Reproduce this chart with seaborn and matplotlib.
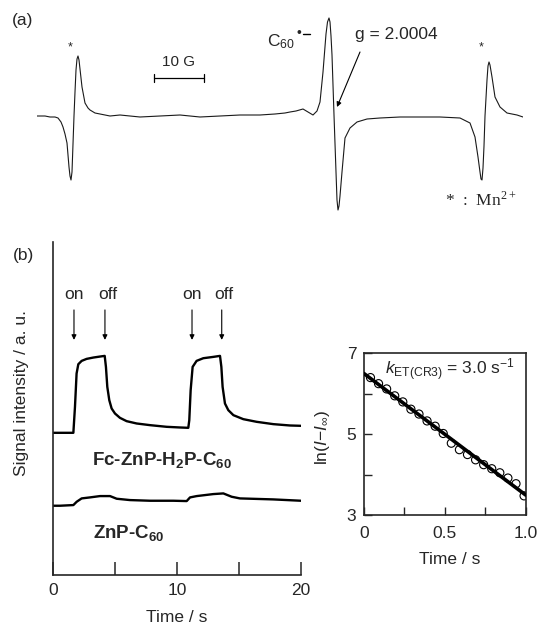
import matplotlib
matplotlib.use("Agg")
import matplotlib.pyplot as plt
import seaborn as sns

# ---------------- panel (a): EPR spectrum (field / G, derivative signal / a.u.)
epr_field = [0.0, 1.6, 2.6, 3.6, 4.2, 4.8, 5.2, 5.6, 6.0, 6.4, 6.6, 6.8, 7.0, 7.2, 7.4, 7.6,
             7.8, 8.0, 8.2, 8.4, 8.6, 9.0, 9.6, 10.2, 10.6, 11.6, 12.6, 14.6, 16.6, 20.6,
             24.6, 28.6, 32.6, 36.6, 40.6, 44.6, 47.6, 49.6, 50.6, 51.8, 53.2, 54.2, 55.2,
             56.0, 56.6, 57.2, 57.8, 58.1, 58.4, 58.6, 58.8, 59.0, 59.4, 59.8, 60.0, 60.2,
             60.4, 60.6, 61.0, 61.6, 62.6, 64.0, 66.0, 68.6, 72.6, 76.6, 80.6, 84.6, 86.6,
             87.6, 88.2, 88.6, 88.8, 89.0, 89.2, 89.4, 89.6, 90.0, 90.2, 90.4, 90.6, 91.0,
             91.6, 92.6, 94.0, 96.0, 97.2]
epr_signal = [0, 0, -1, -1, -2, -6, -11, -18, -27, -51, -60, -64, -56, -28, 0, 24,
              46, 57, 60, 56, 47, 29, 13, 8, 6, 3, 2, 0, 1, -1,
              0, 1, -1, 0, 1, 1, 2, 3, 4, 5, 7, 4, 1,
              5, 14, 44, 82, 94, 98, 94, 80, 61, 1, -56, -84, -94,
              -90, -80, -56, -22, -12, -6, -3, -2, -1, -1, -1, -2, -7,
              -21, -41, -56, -63, -64, -52, -30, 0, 36, 50, 54, 51, 39,
              19, 9, 3, 1, -1]
mn_star_field = [6.6, 88.8]
scale_bar_field = [23.4, 33.4]

# ---------------- panel (b): time profiles of the EPR signal
fc_time = [0.0, 1.62, 1.75, 1.88, 2.02, 2.29, 2.69, 3.23, 3.77, 4.15, 4.25, 4.36, 4.52,
           4.71, 4.98, 5.38, 5.92, 6.73, 7.81, 9.15, 10.23, 10.90, 10.98, 11.09, 11.25,
           11.57, 12.11, 12.92, 13.46, 13.57, 13.67, 13.86, 14.13, 14.54, 15.34, 16.42,
           17.77, 19.11, 20.0]
fc_signal = [42.7, 42.7, 50.5, 60.5, 63.3, 64.3, 64.9, 65.3, 65.6, 65.8, 62.5, 56.5, 52.5,
             50.0, 48.5, 47.2, 46.2, 45.5, 45.0, 44.5, 44.3, 44.2, 46.5, 55.5, 62.5,
             64.3, 65.1, 65.5, 65.8, 62.5, 56.5, 51.5, 49.5, 48.0, 46.8, 46.0,
             45.3, 44.9, 44.8]
znp_time = [0.0, 0.54, 1.62, 1.89, 2.29, 2.96, 3.77, 4.58, 5.12, 6.19, 7.81, 9.69, 10.77,
            11.04, 11.58, 12.92, 13.73, 14.40, 15.07, 17.76, 20.0]
znp_signal = [20.8, 20.8, 21.0, 22.0, 23.0, 23.3, 23.7, 23.7, 22.9, 22.5, 22.3, 22.3, 22.2,
              23.3, 23.7, 24.3, 24.5, 23.5, 23.0, 22.7, 22.3]
light_on = [1.67, 11.2]
light_off = [4.17, 13.6]
x_ticks_b = [0, 5, 10, 15, 20]
x_ticklabels_b = ["0", "", "10", "", "20"]

# ---------------- inset: first-order plot of the decay
decay_time = [0.04, 0.09, 0.14, 0.19, 0.24, 0.29, 0.34, 0.39, 0.44, 0.49, 0.54, 0.59,
              0.64, 0.69, 0.74, 0.79, 0.84, 0.89, 0.94, 0.99]
decay_ln = [6.40, 6.25, 6.12, 5.95, 5.80, 5.62, 5.50, 5.33, 5.20, 5.02, 4.78, 4.62,
            4.50, 4.37, 4.25, 4.15, 4.05, 3.92, 3.78, 3.48]
fit_time = [0.0, 1.0]
fit_ln = [6.5, 3.5]
x_ticks_c = [0, 0.25, 0.5, 0.75, 1.0]
x_ticklabels_c = ["0", "", "0.5", "", "1.0"]
y_ticks_c = [3, 4, 5, 6, 7]
y_ticklabels_c = ["3", "", "5", "", "7"]

# ---------------- style
sns.set_style("ticks")
plt.rcParams["font.family"] = ["Liberation Sans", "DejaVu Sans"]
plt.rcParams["mathtext.fontset"] = "custom"
plt.rcParams["mathtext.rm"] = "Liberation Sans"
plt.rcParams["mathtext.it"] = "Liberation Sans:italic"
plt.rcParams["mathtext.bf"] = "Liberation Sans:bold"
plt.rcParams["axes.linewidth"] = 1.2

W, H = 541, 629
FS = 12.5
fig = plt.figure(figsize=(W / 100, H / 100), dpi=100)


def box(l, t, r, b):
    return [l / W, 1 - b / H, (r - l) / W, (b - t) / H]


# ---------------- (a)
ax_a = fig.add_axes(box(37, 10, 523, 220))
sns.lineplot(x=epr_field, y=epr_signal, ax=ax_a, color="#1a1a1a", lw=0.8,
             estimator=None, sort=False)
ax_a.set_xlim(0, 97.2)
ax_a.set_ylim(-104, 106)
ax_a.axis("off")
for f in mn_star_field:
    ax_a.text(f, 69, "*", ha="center", va="center", fontsize=9)
ax_a.plot(scale_bar_field, [38, 38], color="black", lw=0.9)
for f in scale_bar_field:
    ax_a.plot([f, f], [34, 42], color="black", lw=0.9)
ax_a.text(sum(scale_bar_field) / 2, 54, "10 G", ha="center", va="center", fontsize=11)
ax_a.text(46, 74, r"C$_{60}$", ha="left", va="center", fontsize=FS)
ax_a.text(51.9, 82.5, "\u2022", ha="left", va="center", fontsize=10)
ax_a.plot([53.2, 54.6], [81.5, 81.5], color="black", lw=1.0)
ax_a.text(63.6, 81, "g = 2.0004", ha="left", va="center", fontsize=FS)
ax_a.annotate("", xy=(60.0, 9), xytext=(64.6, 64),
              arrowprops=dict(arrowstyle="-|>", color="black", lw=0.8,
                              mutation_scale=7, shrinkA=0, shrinkB=0))
ax_a.text(81.6, -84, r"*  :  Mn$^{\mathregular{2+}}$", ha="left", va="center",
          fontsize=FS, family="Liberation Serif")
fig.text(12 / W, 1 - 20 / H, "(a)", ha="left", va="center", fontsize=FS)

# ---------------- (b)
ax_b = fig.add_axes(box(53.3, 242, 301, 575))
sns.lineplot(x=fc_time, y=fc_signal, ax=ax_b, color="black", lw=1.7,
             estimator=None, sort=False)
sns.lineplot(x=znp_time, y=znp_signal, ax=ax_b, color="black", lw=1.7,
             estimator=None, sort=False)
ax_b.set_xlim(0, 20)
ax_b.set_ylim(0, 100)
sns.despine(ax=ax_b)
ax_b.set_xticks(x_ticks_b)
ax_b.set_xticklabels(x_ticklabels_b)
ax_b.set_yticks([])
ax_b.tick_params(axis="x", direction="in", length=9.4, width=1.1, pad=6, labelsize=FS)
ax_b.set_xlabel("Time / s", fontsize=FS)
ax_b.xaxis.set_label_coords(0.5, -0.105)
ax_b.set_ylabel("Signal intensity / a. u.", fontsize=FS)
ax_b.yaxis.set_label_coords(-0.098, 0.547)
arrow_kw = dict(arrowstyle="-|>", color="black", lw=0.8, mutation_scale=7,
                shrinkA=0, shrinkB=0)
for t in light_on:
    ax_b.annotate("", xy=(t, 70.6), xytext=(t, 79.6), arrowprops=arrow_kw)
    ax_b.text(t, 84.1, "on", ha="center", va="center", fontsize=FS)
for t in light_off:
    ax_b.annotate("", xy=(t, 70.6), xytext=(t, 79.6), arrowprops=arrow_kw)
    ax_b.text(t + 0.2, 84.1, "off", ha="center", va="center", fontsize=FS)
ax_b.text(3.12, 34.5, r"Fc-ZnP-H$_\mathbf{2}$P-C$_\mathbf{60}$", ha="left", va="center",
          fontsize=13.5, fontweight="bold")
ax_b.text(3.2, 12.6, r"ZnP-C$_\mathbf{60}$", ha="left", va="center",
          fontsize=13.5, fontweight="bold")
fig.text(13 / W, 1 - 255 / H, "(b)", ha="left", va="center", fontsize=FS)

# ---------------- inset
ax_c = fig.add_axes(box(364, 353.3, 525.7, 515.3))
sns.scatterplot(x=decay_time, y=decay_ln, ax=ax_c, s=34, marker="o", zorder=2)
pts = ax_c.collections[-1]
pts.set_facecolor("none")
pts.set_edgecolor("black")
pts.set_linewidth(0.8)
sns.lineplot(x=fit_time, y=fit_ln, ax=ax_c, color="black", lw=2.6, zorder=3,
             estimator=None, sort=False)
ax_c.set_xlim(0, 1)
ax_c.set_ylim(3, 7)
ax_c.set_xticks(x_ticks_c)
ax_c.set_xticklabels(x_ticklabels_c)
ax_c.set_yticks(y_ticks_c)
ax_c.set_yticklabels(y_ticklabels_c)
ax_c.tick_params(direction="in", length=5.8, width=1.0, labelsize=FS)
ax_c.tick_params(axis="x", pad=8)
ax_c.tick_params(axis="y", pad=5.5)
for s in ax_c.spines.values():
    s.set_linewidth(1.2)
ax_c.set_xlabel("Time / s", fontsize=FS)
ax_c.xaxis.set_label_coords(0.53, -0.227)
ax_c.set_ylabel(r"ln($I$$-$$I_\infty$)", fontsize=FS)
ax_c.yaxis.set_label_coords(-0.198, 0.483)
ax_c.text(0.13, 6.59, r"$k_\mathrm{ET(CR3)}$ = 3.0 s$^{-1}$", ha="left", va="center",
          fontsize=FS)

fig.savefig("out.png", dpi=100)
